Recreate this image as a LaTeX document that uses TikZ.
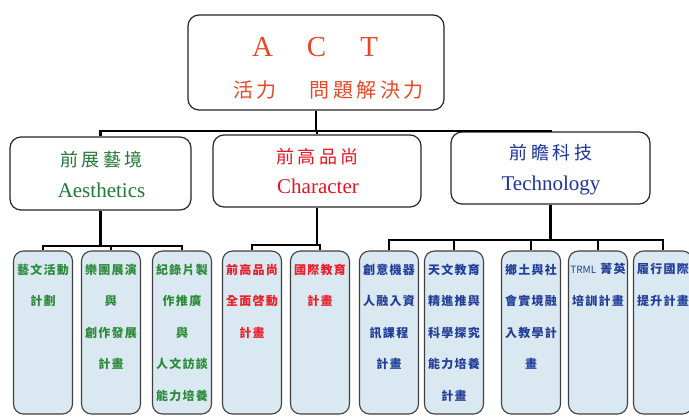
\documentclass[tikz,border=0pt]{standalone}
\usepackage{fontspec}
\setmainfont{Liberation Serif}
\newfontfamily\cjk{Noto Sans CJK TC}
\usetikzlibrary{calc}
\definecolor{actred}{RGB}{232,72,38}
\definecolor{aesgreen}{RGB}{34,120,52}
\definecolor{chrred}{RGB}{226,22,32}
\definecolor{tecblue}{RGB}{28,52,156}
\definecolor{subgreen}{RGB}{44,138,58}
\definecolor{subred}{RGB}{232,30,40}
\definecolor{subblue}{RGB}{34,62,152}
\definecolor{boxfill}{RGB}{218,232,241}
\ExplSyntaxOn
\NewDocumentCommand\chsp{mm}{\tl_map_inline:nn{#2}{##1\hspace{#1}}\unskip}
\ExplSyntaxOff
\newcommand\cjkline[1]{\chsp{1.3pt}{#1}}
\begin{document}
\begin{tikzpicture}[x=1pt,y=-1pt,
  mainbox/.style={draw=black!85, line width=1.2pt, rounded corners=11pt, fill=white, inner sep=0pt},
  subbox/.style={draw=black!75, line width=1.1pt, rounded corners=10pt, fill=boxfill, minimum width=59pt, minimum height=163pt, inner sep=0pt},
  conn/.style={line width=2.2pt, black},
  subtext/.style={anchor=north, inner sep=0pt, align=center, font=\cjk\bfseries\fontsize{12}{31.6}\selectfont},
  cjktitle/.style={inner sep=0pt, font=\cjk\fontsize{18}{18}\selectfont},
  entitle/.style={inner sep=0pt, anchor=base, font=\fontsize{21}{21}\selectfont},
]
\fill[white] (0,0) rectangle (689,416);
\clip (0,0) rectangle (689,416);

% top box
\node[mainbox, minimum width=256pt, minimum height=95pt] (top) at (316,62.5) {};
\node[inner sep=0pt, text=actred, font=\fontsize{29}{29}\selectfont] (act) at (315,47) {A\hspace{34pt}C\hspace{34pt}T};
\node[inner sep=0pt, text=actred, font=\cjk\fontsize{20}{20}\selectfont] (vit) at (255,90) {\chsp{3.5pt}{活力}};
\node[inner sep=0pt, text=actred, font=\cjk\fontsize{20}{20}\selectfont] (prob) at (366.5,90) {\chsp{3.5pt}{問題解決力}};

% middle boxes
\node[mainbox, minimum width=181pt, minimum height=73pt] (aes) at (100.5,173.5) {};
\node[cjktitle, text=aesgreen] (aesc) at (101.5,160) {\chsp{3.5pt}{前展藝境}};
\node[entitle, text=aesgreen] (aese) at (101.5,197) {Aesthetics};

\node[mainbox, minimum width=208pt, minimum height=72pt] (chr) at (317,171) {};
\node[cjktitle, text=chrred] (chrc) at (317.5,157) {\chsp{3.5pt}{前高品尚}};
\node[entitle, text=chrred] (chre) at (318,193) {Character};

\node[mainbox, minimum width=199pt, minimum height=72pt] (tec) at (550.5,168) {};
\node[cjktitle, text=tecblue] (tecc) at (551,153) {\chsp{3.5pt}{前瞻科技}};
\node[entitle, text=tecblue] (tece) at (551,190) {Technology};

% bottom boxes
\node[subbox] (b1) at (43,332.5) {};
\node[subbox] (b2) at (111,332.5) {};
\node[subbox] (b3) at (182,332.5) {};
\node[subbox] (b4) at (252,332.5) {};
\node[subbox] (b5) at (320,332.5) {};
\node[subbox] (b6) at (389,332.5) {};
\node[subbox] (b7) at (454,332.5) {};
\node[subbox] (b8) at (531,332.5) {};
\node[subbox] (b9) at (598,332.5) {};
\node[subbox] (b10) at (663,332.5) {};

\node[subtext, text=subgreen] (t1) at ($(b1.north)+(0,13)$) {\cjkline{藝文活動}\\\cjkline{計劃}};
\node[subtext, text=subgreen] (t2) at ($(b2.north)+(0,13)$) {\cjkline{樂團展演}\\\cjkline{與}\\\cjkline{創作發展}\\\cjkline{計畫}};
\node[subtext, text=subgreen] (t3) at ($(b3.north)+(0,13)$) {\cjkline{紀錄片製}\\\cjkline{作推廣}\\\cjkline{與}\\\cjkline{人文訪談}\\\cjkline{能力培養}};
\node[subtext, text=subred] (t4) at ($(b4.north)+(0,13)$) {\cjkline{前高品尚}\\\cjkline{全面啓動}\\\cjkline{計畫}};
\node[subtext, text=subred] (t5) at ($(b5.north)+(0,13)$) {\cjkline{國際教育}\\\cjkline{計畫}};
\node[subtext, text=subblue] (t6) at ($(b6.north)+(0,13)$) {\cjkline{創意機器}\\\cjkline{人融入資}\\\cjkline{訊課程}\\\cjkline{計畫}};
\node[subtext, text=subblue] (t7) at ($(b7.north)+(0,13)$) {\cjkline{天文教育}\\\cjkline{精進推與}\\\cjkline{科學探究}\\\cjkline{能力培養}\\\cjkline{計畫}};
\node[subtext, text=subblue] (t8) at ($(b8.north)+(0,13)$) {\cjkline{鄉土與社}\\\cjkline{會實境融}\\\cjkline{入教學計}\\\cjkline{畫}};
\node[subtext, text=subblue] (t9) at ($(b9.north)+(0,13)$) {{\mdseries\fontsize{10}{10}\selectfont TRML}\hspace{4pt}\cjkline{菁英}\\\cjkline{培訓計畫}};
\node[subtext, text=subblue] (t10) at ($(b10.north)+(0,13)$) {\cjkline{履行國際}\\\cjkline{提升計畫}};

% connectors level 1
\coordinate (h1) at (0,131);
\draw[conn] (top.south) -- (top.south |- h1);
\draw[conn] (aes.north) |- (tec.north |- h1) -- (tec.north);
\draw[conn] (chr.north) -- (chr.north |- h1);

% connectors level 2
\coordinate (ha) at (0,246);
\coordinate (hc) at (0,245);
\coordinate (ht) at (0,240);
\draw[conn] (aes.south) -- (aes.south |- ha);
\draw[conn] (b1.north) |- (b3.north |- ha) -- (b3.north);
\draw[conn] (b2.north) -- (b2.north |- ha);
\draw[conn] (chr.south) -- (chr.south |- hc);
\draw[conn] (b4.north) |- (b5.north |- hc) -- (b5.north);
\draw[conn] (tec.south) -- (tec.south |- ht);
\draw[conn] (b6.north) |- (b10.north |- ht) -- (b10.north);
\draw[conn] (b7.north) -- (b7.north |- ht);
\draw[conn] (b8.north) -- (b8.north |- ht);
\draw[conn] (b9.north) -- (b9.north |- ht);
\end{tikzpicture}
\end{document}
